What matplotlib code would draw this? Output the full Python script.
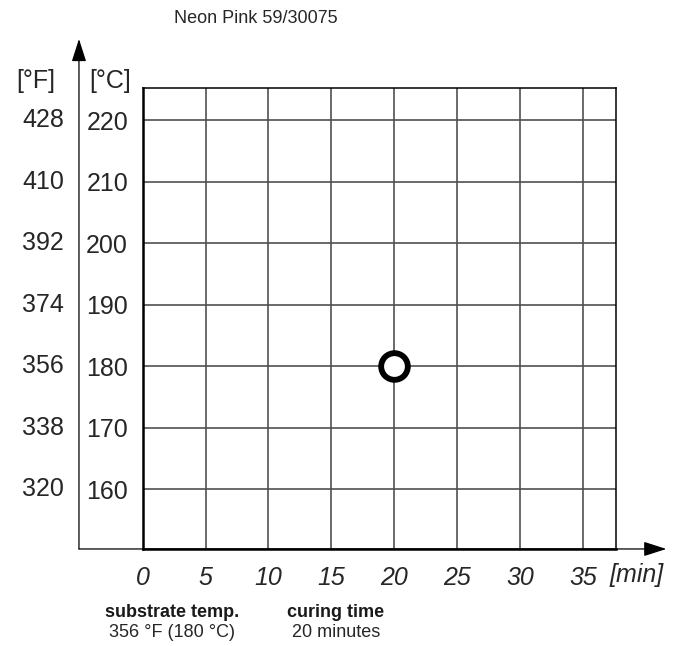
import matplotlib
matplotlib.use("Agg")
from matplotlib import pyplot as plt

plt.rcParams['font.family'] = ['Liberation Sans', 'DejaVu Sans']

# data
title = "Neon Pink 59/30075"
minutes_ticks = [0, 5, 10, 15, 20, 25, 30, 35]
celsius_ticks = [160, 170, 180, 190, 200, 210, 220]
fahrenheit_labels = ['320', '338', '356', '374', '392', '410', '428']
cure_time = [20]
cure_temp = [180]
x_limits = (0, 37.6)
y_limits = (150.3, 225.15)

text_col = '#262626'

fig = plt.figure(figsize=(6.74, 6.46), dpi=100)
ax = fig.add_axes([0.2117, 0.1502, 0.7018, 0.7131])
ax.set_xlim(*x_limits)
ax.set_ylim(*y_limits)

# grid
for x in minutes_ticks[1:]:
    ax.axvline(x, color='#505050', lw=1.2, zorder=1)
for y in celsius_ticks:
    ax.axhline(y, color='#505050', lw=1.2, zorder=1)

for side in ['top', 'right']:
    ax.spines[side].set_linewidth(1.1)
for side in ['left', 'bottom']:
    ax.spines[side].set_linewidth(1.8)

ax.set_xticks(minutes_ticks)
ax.set_xticklabels([str(m) for m in minutes_ticks], fontsize=18, style='italic',
                   color=text_col)
ax.set_yticks(celsius_ticks)
ax.set_yticklabels([str(c) for c in celsius_ticks], fontsize=18, color=text_col)
ax.tick_params(axis='both', length=0)
ax.tick_params(axis='y', pad=10.5)
ax.tick_params(axis='x', pad=12)

# fahrenheit labels on the left
for c, f in zip(celsius_ticks, fahrenheit_labels):
    ax.text(-0.1664, c, f, transform=ax.get_yaxis_transform(), ha='right',
            va='center', fontsize=18, color=text_col)

ax.text(-0.2265, 1.016, '[°F]', transform=ax.transAxes, ha='center', va='center',
        fontsize=18, color=text_col)
ax.text(-0.0692, 1.016, '[°C]', transform=ax.transAxes, ha='center', va='center',
        fontsize=18, color=text_col)
ax.text(1.044, -0.0560, '[min]', transform=ax.transAxes, ha='center', va='center',
        fontsize=18, style='italic', color=text_col)

# axis arrows
arrow = dict(arrowstyle='-|>,head_length=1.4,head_width=0.45', color='black',
             lw=0.9, shrinkA=0, shrinkB=0)
ax.annotate('', xy=(1.107, 0), xytext=(-0.1347, 0), xycoords='axes fraction',
            arrowprops=arrow, annotation_clip=False)
ax.annotate('', xy=(-0.1347, 1.107), xytext=(-0.1347, 0), xycoords='axes fraction',
            arrowprops=arrow, annotation_clip=False)

ax.plot(cure_time, cure_temp, 'o', ms=19.2, mfc='white', mec='black', mew=4.2,
        zorder=5, clip_on=False)

ax.text(0.066, 1.1505, title, transform=ax.transAxes, ha='left', va='center',
        fontsize=13, color=text_col)

fig.text(0.2552, 0.0525, 'substrate temp.', ha='center', va='center', fontsize=13,
         fontweight='bold', color='#1a1a1a')
fig.text(0.2552, 0.0205, '356 °F (180 °C)', ha='center', va='center', fontsize=13,
         color=text_col)
fig.text(0.4985, 0.0525, 'curing time', ha='center', va='center', fontsize=13,
         fontweight='bold', color='#1a1a1a')
fig.text(0.4985, 0.0205, '20 minutes', ha='center', va='center', fontsize=13,
         color=text_col)

fig.savefig('out.png', dpi=100)
